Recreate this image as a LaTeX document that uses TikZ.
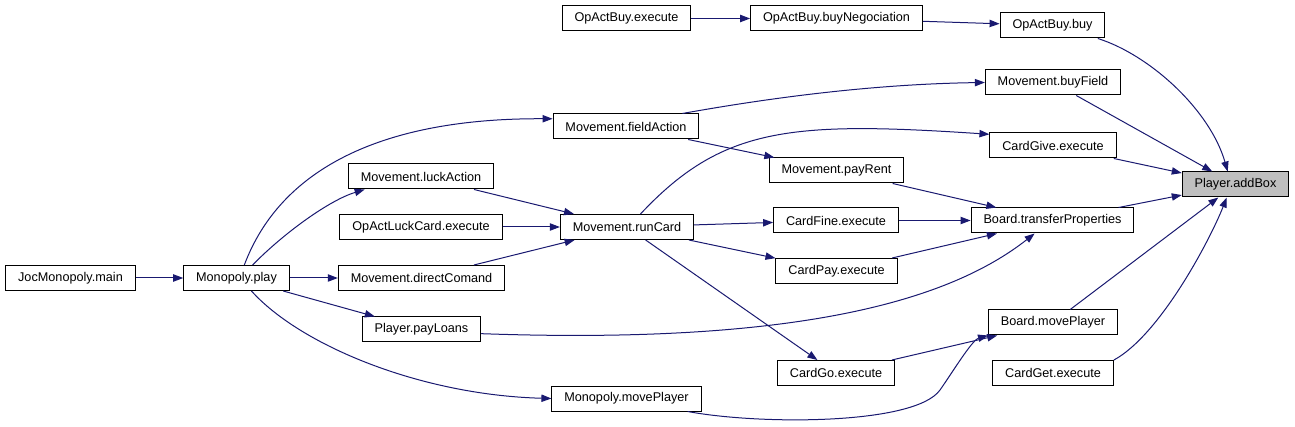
\documentclass[tikz,border=0pt]{standalone}
\usepackage{fontspec}
\setmainfont{Liberation Sans}
\usetikzlibrary{arrows.meta}
\definecolor{edgeblue}{HTML}{191970}
\definecolor{boxgray}{HTML}{BFBFBF}

\begin{document}
\begin{tikzpicture}[x=0.75pt, y=-0.75pt,
  func/.style={draw, rectangle, line width=0.75pt, minimum height=18.75pt, inner ysep=0pt, inner xsep=9.3pt, font=\fontsize{9.5}{11}\selectfont},
  calls/.style={draw=edgeblue, line width=0.75pt, -{Triangle[length=7.5pt, width=5.5pt]}}]
\useasboundingbox (0,0) rectangle (1295,427);
% Nodes
\node[func] (main) at (70.5,278) {JocMonopoly.main};
\node[func] (play) at (236.5,278) {Monopoly.play};
\node[func] (luck) at (421,176.5) {Movement.luckAction};
\node[func] (opluck) at (421,227) {OpActLuckCard.execute};
\node[func] (direct) at (421.5,278) {Movement.directComand};
\node[func] (loans) at (421.5,329.5) {Player.payLoans};
\node[func] (buyexec) at (626.5,18.5) {OpActBuy.execute};
\node[func] (field) at (626,126.5) {Movement.fieldAction};
\node[func] (run) at (627,227) {Movement.runCard};
\node[func] (mmove) at (626.5,398.5) {Monopoly.movePlayer};
\node[func] (nego) at (836.5,18.5) {OpActBuy.buyNegociation};
\node[func] (rent) at (836.5,170.5) {Movement.payRent};
\node[func] (fine) at (836,220.5) {CardFine.execute};
\node[func] (pay) at (836.5,271) {CardPay.execute};
\node[func] (gocard) at (836,373) {CardGo.execute};
\node[func] (buy) at (1052.5,25.5) {OpActBuy.buy};
\node[func] (buyfield) at (1053,82.5) {Movement.buyField};
\node[func] (give) at (1053,145.5) {CardGive.execute};
\node[func] (transfer) at (1052.5,220.5) {Board.transferProperties};
\node[func] (bmove) at (1053,322.5) {Board.movePlayer};
\node[func] (getcard) at (1053,373) {CardGet.execute};
\node[func, fill=boxgray] (addbox) at (1235.5,184.5) {Player.addBox};

% Arrows
\draw[calls] (main) -- (play);
\draw[calls] (play.59) .. controls (280,170) and (380,118) .. (field.174);
\draw[calls] (play.39) .. controls (285,232) and (330,200) .. (luck.193);
\draw[calls] (play) -- (direct);
\draw[calls] (play) -- (loans);
\draw[calls] (play.-41) .. controls (300,345) and (420,395) .. (mmove.west);
\draw[calls] (luck) -- (run);
\draw[calls] (opluck) -- (run);
\draw[calls] (direct) -- (run);
\draw[calls] (buyexec) -- (nego);
\draw[calls] (field.13) .. controls (780,96) and (880,84) .. (buyfield.west);
\draw[calls] (field) -- (rent);
\draw[calls] (run.44) .. controls (722,127) and (790,121) .. (give.170);
\draw[calls] (run) -- (fine);
\draw[calls] (run) -- (pay);
\draw[calls] (run) -- (gocard);
\draw[calls] (loans.-4) .. controls (800,345) and (950,300) .. (transfer.216);
\draw[calls] (mmove.-12) .. controls (760,425) and (915,425) .. (940,390)
  .. controls (952,373) and (972,340) .. (bmove.south west);
\draw[calls] (nego) -- (buy);
\draw[calls] (rent) -- (transfer);
\draw[calls] (fine) -- (transfer);
\draw[calls] (pay) -- (transfer);
\draw[calls] (gocard) -- (bmove);
\draw[calls] (buy.-16) .. controls (1150,55) and (1210,110) .. (addbox.121);
\draw[calls] (buyfield) -- (addbox);
\draw[calls] (give) -- (addbox);
\draw[calls] (transfer) -- (addbox);
\draw[calls] (bmove) -- (addbox);
\draw[calls] (getcard.12) .. controls (1160,335) and (1210,240) .. (addbox.236);
\end{tikzpicture}
\end{document}
